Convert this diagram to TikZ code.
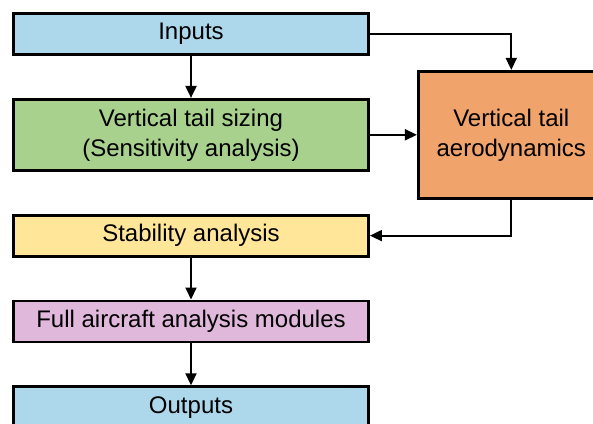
\documentclass[tikz,border=0pt]{standalone}
\usepackage{fontspec}
\setmainfont{Liberation Sans}
\usetikzlibrary{positioning,arrows.meta}

\definecolor{ioblue}{RGB}{173,216,236}
\definecolor{sizegreen}{RGB}{169,209,142}
\definecolor{aeroorange}{RGB}{241,163,108}
\definecolor{stabyellow}{RGB}{255,230,153}
\definecolor{fullpink}{RGB}{224,184,219}

\begin{document}
\begin{tikzpicture}[node distance=21pt,
    box/.style={draw, rectangle, line width=1.4pt, minimum width=177.5pt,
                minimum height=20.5pt, align=center,
                font=\fontsize{12}{15}\selectfont},
    link/.style={-{Triangle[length=6pt,width=5.5pt]}, line width=1pt}]
  \useasboundingbox (0,0) rectangle (296.5pt,-211.5pt);
  \clip (0,0) rectangle (296.5pt,-211.5pt);

  \node (inputs) [box, fill=ioblue] at (95.5pt,-17pt) {Inputs};
  \node (sizing) [box, fill=sizegreen, minimum height=35.5pt, below=of inputs]
                 {Vertical tail sizing\\(Sensitivity analysis)};
  \node (aero) [box, fill=aeroorange, minimum width=93pt, minimum height=63.5pt,
                right=23.5pt of sizing]
               {Vertical tail\\aerodynamics};
  \node (stability) [box, fill=stabyellow, below=of sizing] {Stability analysis};
  \node (full) [box, fill=fullpink, below=of stability] {Full aircraft analysis modules};
  \node (outputs) [box, fill=ioblue, below=of full] {Outputs};

  \draw[link] (inputs)    -- (sizing);
  \draw[link] (inputs.east) -| (aero.north);
  \draw[link] (sizing)    -- (aero);
  \draw[link] (aero.south) |- (stability.east);
  \draw[link] (stability) -- (full);
  \draw[link] (full)      -- (outputs);
\end{tikzpicture}
\end{document}
